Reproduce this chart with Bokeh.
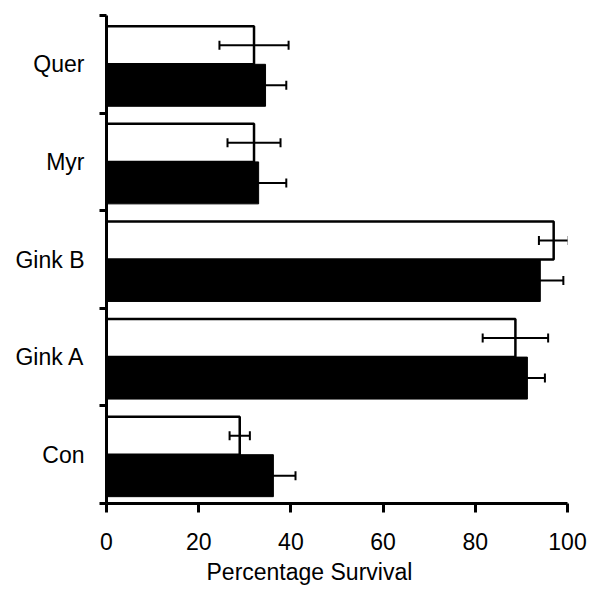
from bokeh.plotting import figure
from bokeh.models import Range1d, FixedTicker, ColumnDataSource, Whisker, TeeHead, Title
from bokeh.embed import file_html
from bokeh.resources import INLINE

# ---- data ----
categories = ["Con", "Gink A", "Gink B", "Myr", "Quer"]
open_values = [28.9, 88.7, 97.0, 32.0, 32.0]
open_errors = [2.2, 7.1, 3.2, 5.75, 7.5]
filled_values = [36.2, 91.3, 94.1, 33.0, 34.5]
filled_errors = [4.8, 3.8, 5.0, 6.0, 4.5]
x_ticks = [0, 20, 40, 60, 80, 100]
x_label = "Percentage Survival"

FONT = "Liberation Sans"

n = len(categories)
idx = list(range(n))

# layout within each category band (0 = bottom, 1 = top)
open_center, open_height = 0.695, 0.39
filled_center, filled_height = 0.285, 0.43

p = figure(width=589, height=594, output_backend="svg", toolbar_location=None,
           x_range=Range1d(0, 100), y_range=Range1d(0, n),
           min_border_left=106, min_border_right=22, min_border_top=15, min_border_bottom=91)
p.outline_line_color = None
p.xgrid.visible = False
p.ygrid.visible = False
p.background_fill_color = "white"
p.border_fill_color = "white"

filled_src = ColumnDataSource(dict(
    y=[i + filled_center for i in idx], right=filled_values,
    lower=[v - e for v, e in zip(filled_values, filled_errors)],
    upper=[v + e for v, e in zip(filled_values, filled_errors)]))
open_src = ColumnDataSource(dict(
    y=[i + open_center for i in idx], right=open_values,
    lower=[v - e for v, e in zip(open_values, open_errors)],
    upper=[v + e for v, e in zip(open_values, open_errors)]))

p.hbar(y="y", right="right", left=0, height=filled_height, source=filled_src,
       fill_color="black", line_color="black", line_width=1)
p.hbar(y="y", right="right", left=0, height=open_height, source=open_src,
       fill_color="white", line_color="black", line_width=2.5)

for src in (open_src, filled_src):
    w = Whisker(source=src, base="y", lower="lower", upper="upper", dimension="width",
                line_color="black", line_width=2, level="annotation",
                lower_head=TeeHead(size=9, line_width=2, line_color="black"),
                upper_head=TeeHead(size=9, line_width=2, line_color="black"))
    p.add_layout(w)

# x axis
xa = p.xaxis[0]
xa.ticker = FixedTicker(ticks=x_ticks)
xa.axis_line_width = 3
xa.major_tick_line_width = 3
xa.major_tick_out = 9
xa.major_tick_in = 0
xa.minor_tick_out = 0
xa.minor_tick_in = 0
xa.major_label_text_font = FONT
xa.major_label_text_font_size = "23px"
xa.major_label_text_color = "black"
xa.major_label_standoff = 20

# axis title (placed left of centre, as in the original)
title = Title(text=x_label, text_font=FONT, text_font_size="23px", text_font_style="normal",
              text_color="black", align="left", offset=100, standoff=9)
p.add_layout(title, "below")

# y axis: labels at category centres, ticks at boundaries
ya = p.yaxis[0]
ya.ticker = FixedTicker(ticks=[i + 0.5 for i in idx], minor_ticks=list(range(n + 1)))
ya.major_label_overrides = {i + 0.5: c for i, c in zip(idx, categories)}
ya.axis_line_width = 3
ya.major_tick_out = 0
ya.major_tick_in = 0
ya.minor_tick_out = 7
ya.minor_tick_in = 0
ya.minor_tick_line_width = 3
ya.minor_tick_line_color = "black"
ya.major_label_text_font = FONT
ya.major_label_text_font_size = "23px"
ya.major_label_text_color = "black"
ya.major_label_standoff = 15

open("out.html", "w").write(file_html(p, INLINE))
